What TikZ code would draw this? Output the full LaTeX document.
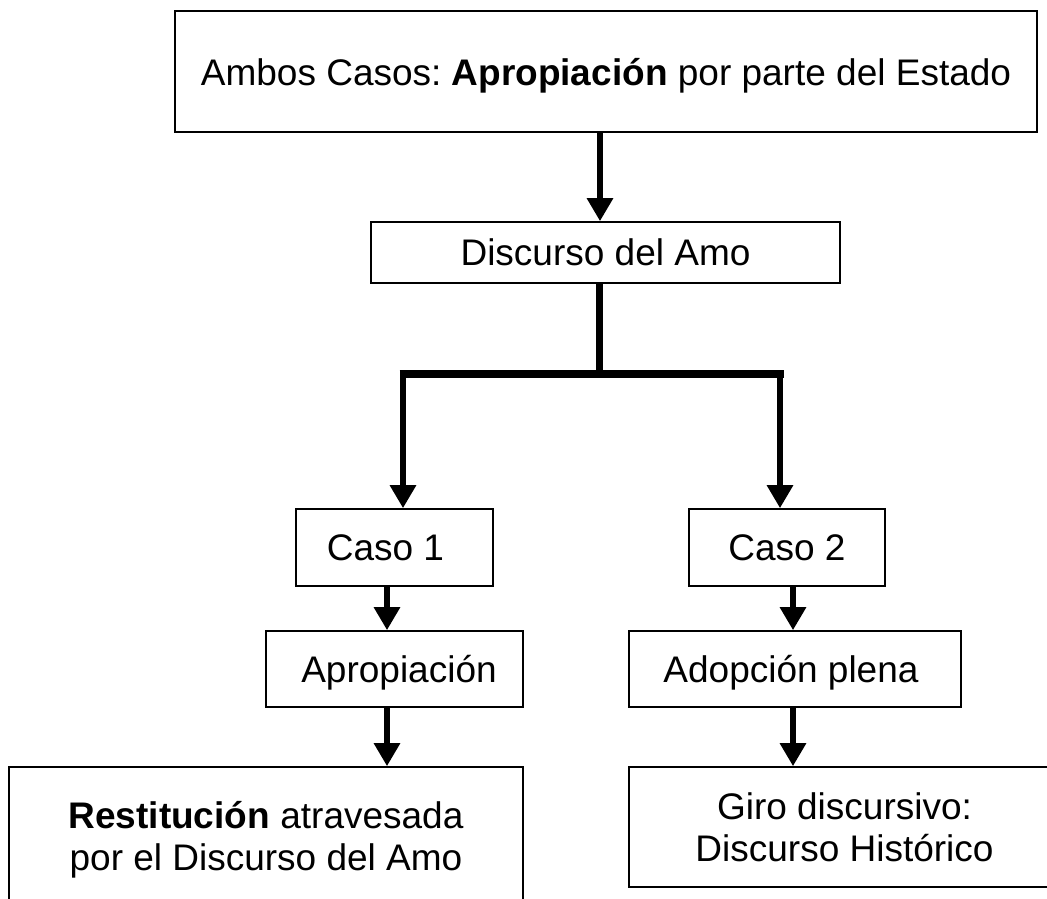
\documentclass[tikz,border=0pt]{standalone}
\usepackage{fontspec}
\setmainfont{Liberation Sans}
\usetikzlibrary{arrows.meta}
\frenchspacing
\begin{document}
\begin{tikzpicture}[x=1pt,y=-1pt,
  box/.style={draw=black,line width=1.6pt,rectangle,inner sep=0pt,align=center,
    font=\fontsize{37pt}{42pt}\selectfont},
  one/.style={text depth=0pt},
  arr/.style={line width=6.5pt,-{Triangle[width=25pt,length=23pt]}},
  bar/.style={line width=7pt}]
\clip (0,0) rectangle (1047,898);
\fill[white] (0,0) rectangle (1047,898);
\node[box,one,minimum width=862pt,minimum height=121pt] (top) at (606,71.5)
  {Ambos Casos: \textbf{Apropiación} por parte del Estado};
\node[box,one,minimum width=469pt,minimum height=61pt] (amo) at (605.5,252.5) {Discurso del Amo};
\node[box,one,minimum width=197pt,minimum height=77pt] (c1) at (394.5,547.5) {Caso 1\hspace*{18pt}};
\node[box,one,minimum width=196pt,minimum height=77pt] (c2) at (787,547.5) {Caso 2};
\node[box,one,minimum width=257pt,minimum height=76pt] (ap) at (394.5,669) {\hspace*{9pt}Apropiación};
\node[box,one,minimum width=332pt,minimum height=76pt] (ad) at (795,669) {Adopción plena\hspace*{8pt}};
\node[box,minimum width=514pt,minimum height=146pt] (rest) at (266,840)
  {\textbf{Restitución} atravesada\\por el Discurso del Amo};
\node[box,minimum width=431pt,minimum height=120pt] (giro) at (844.5,827)
  {Giro discursivo:\\Discurso Histórico};
\coordinate (a0) at (600,0);
\coordinate (j) at (599,374);
\coordinate (jl) at (403,374);
\coordinate (jr) at (780,374);
\coordinate (l1) at (387,0);
\coordinate (r1) at (793,0);
\draw[arr] (top.south -| a0) -- (amo.north -| a0);
\draw[bar] (amo.south -| j) -- (j);
\draw[line width=8pt] ([xshift=-3.5pt]jl) -- ([xshift=3.5pt]jr);
\draw[arr] ([yshift=-3pt]jl) -- (c1.north -| jl);
\draw[arr] ([yshift=-3pt]jr) -- (c2.north -| jr);
\draw[arr] (c1.south -| l1) -- (ap.north -| l1);
\draw[arr] (c2.south -| r1) -- (ad.north -| r1);
\draw[arr] (ap.south -| l1) -- (rest.north -| l1);
\draw[arr] (ad.south -| r1) -- (giro.north -| r1);
\end{tikzpicture}
\end{document}
